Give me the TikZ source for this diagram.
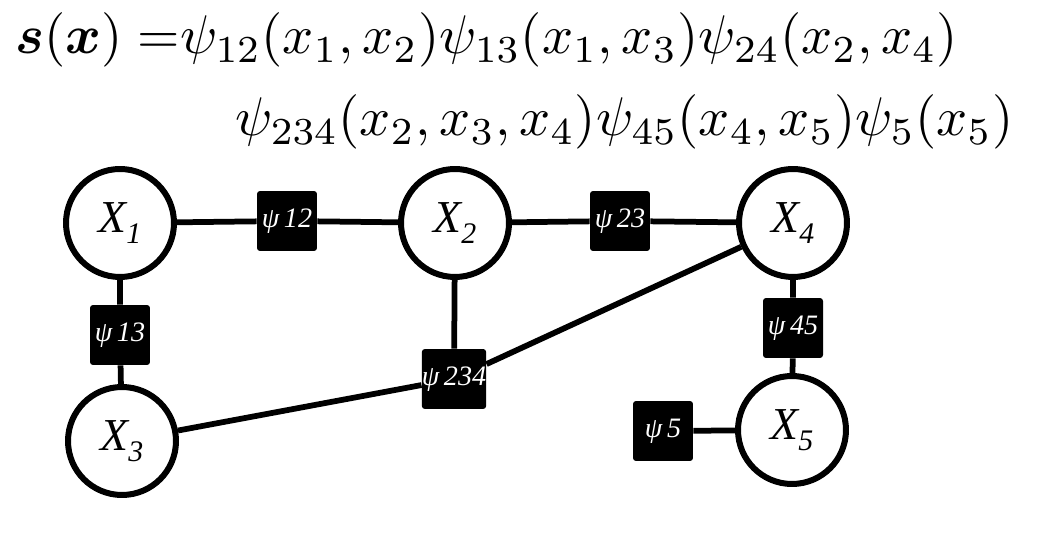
\documentclass[tikz,border=0pt]{standalone}
\usepackage{amsmath}
\usepackage{fontspec}
\newfontfamily\factfont{Liberation Serif}
\usetikzlibrary{positioning}

\begin{document}
\begin{tikzpicture}[
    x=0.02cm, y=-0.02cm,
    varnd/.style={circle, draw, line width=0.12cm, fill=white, minimum size=2.16cm, inner sep=0pt,
                  font=\factfont\itshape\fontsize{26}{30}\selectfont},
    factnd/.style={rectangle, fill=black, rounded corners=0.06cm, minimum size=1.2cm, inner sep=0pt,
                   text=white, font=\factfont\itshape\fontsize{16}{18}\selectfont},
    lnk/.style={line width=0.115cm},
    eqn/.style={anchor=base west, inner sep=0pt, font=\fontsize{10}{12}\selectfont}
  ]
    \useasboundingbox (0,0) rectangle (1042,540);

    %--- Factorisation ---
    \node[eqn] (eqa) at (15,54)
      {\scalebox{3.1}{$\boldsymbol{s}(\boldsymbol{x}) =$$\psi_{12}(x_1,x_2)\psi_{13}(x_1,x_3)\psi_{24}(x_2,x_4)$}};
    \node[eqn] (eqb) at (235,136)
      {\scalebox{3.1}{$\psi_{234}(x_2,x_3,x_4)\psi_{45}(x_4,x_5)\psi_{5}(x_5)$}};

    %--- Variable nodes ---
    \node[varnd] (x1) at (120,223) {X\raisebox{-0.25em}{\fontsize{17}{17}\selectfont 1}};
    \node[varnd] (x2) at (455,223) {X\raisebox{-0.25em}{\fontsize{17}{17}\selectfont 2}};
    \node[varnd] (x3) at (122,441) {X\raisebox{-0.25em}{\fontsize{17}{17}\selectfont 3}};
    \node[varnd] (x4) at (793,223) {X\raisebox{-0.25em}{\fontsize{17}{17}\selectfont 4}};
    \node[varnd] (x5) at (792,430) {X\raisebox{-0.25em}{\fontsize{17}{17}\selectfont 5}};

    %--- Factor nodes ---
    \node[factnd] (f12)  at (287,221) {ψ\,12};
    \node[factnd] (f23)  at (620,221) {ψ\,23};
    \node[factnd] (f13)  at (120,335) {ψ\,13};
    \node[factnd] (f234) at (454,379) {ψ\,234};
    \node[factnd] (f45)  at (793,328) {ψ\,45};
    \node[factnd] (f5)   at (663,431) {ψ\,5};

    %--- Edges ---
    \draw[lnk] (x1) -- (f12) -- (x2);
    \draw[lnk] (x2) -- (f23) -- (x4);
    \draw[lnk] (x1) -- (f13) -- (x3);
    \draw[lnk] (x2) -- (f234);
    \draw[lnk] (x3) -- (f234) -- (x4);
    \draw[lnk] (x4) -- (f45) -- (x5);
    \draw[lnk] (f5) -- (x5);
  \end{tikzpicture}
\end{document}
